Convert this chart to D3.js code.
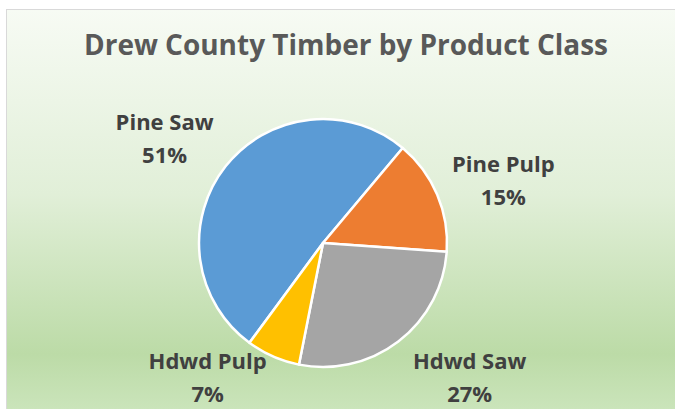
<!DOCTYPE html>
<html>
<head>
<meta charset="utf-8">
<script src="https://cdn.jsdelivr.net/npm/d3@7"></script>
<style>
  html, body { margin: 0; padding: 0; background: #ffffff; }
  svg { display: block; }
</style>
</head>
<body>
<script>
// Chart data
const categories = ["Pine Saw", "Pine Pulp", "Hdwd Saw", "Hdwd Pulp"];
const shares = [51, 15, 27, 7];
const percentLabels = ["51%", "15%", "27%", "7%"];
const sliceColors = ["#5B9BD5", "#ED7D31", "#A5A5A5", "#FFC000"];
const chartTitle = "Drew County Timber by Product Class";

// Layout
const WIDTH = 675;
const HEIGHT = 409;
const CENTER = { x: 323, y: 243 };
const RADIUS = 124;
const LABEL_RX = 150;
const LABEL_RY = 140;
const LABEL_FONT = 22;
const LINE_GAP = 33;
const START_DEG = -143.6;
// hand tweaks for the data labels, like dragged labels in the original
const labelNudge = [[-2, -3], [-5, 2], [21, 4], [-31, -16]];

const svg = d3.select("body")
  .append("svg")
  .attr("width", WIDTH)
  .attr("height", HEIGHT);

// Background gradient
const defs = svg.append("defs");
const grad = defs.append("linearGradient")
  .attr("id", "bg")
  .attr("x1", 0).attr("y1", 0)
  .attr("x2", 0).attr("y2", 1);
grad.append("stop").attr("offset", "0%").attr("stop-color", "#f7fbf4");
grad.append("stop").attr("offset", "45%").attr("stop-color", "#e1efd8");
grad.append("stop").attr("offset", "84%").attr("stop-color", "#bcdba7");
grad.append("stop").attr("offset", "100%").attr("stop-color", "#cde6be");

svg.append("rect")
  .attr("x", 6.5)
  .attr("y", 9.5)
  .attr("width", 700)
  .attr("height", 410)
  .attr("fill", "url(#bg)")
  .attr("stroke", "#d9d9d9")
  .attr("stroke-width", 1);

// Title
svg.append("text")
  .attr("x", 346)
  .attr("y", 55)
  .attr("text-anchor", "middle")
  .attr("textLength", 524)
  .attr("lengthAdjust", "spacingAndGlyphs")
  .style("font-family", "'Open Sans', 'Noto Sans', sans-serif")
  .style("font-weight", "700")
  .style("font-size", "28px")
  .style("fill", "#595959")
  .text(chartTitle);

// Pie
const data = categories.map((c, i) => ({ name: c, value: shares[i], pct: percentLabels[i], color: sliceColors[i] }));

const startAngle = START_DEG * Math.PI / 180;
const pie = d3.pie()
  .sort(null)
  .value((d) => d.value)
  .startAngle(startAngle)
  .endAngle(startAngle + 2 * Math.PI);

const arc = d3.arc()
  .innerRadius(0)
  .outerRadius(RADIUS);

const pieGroup = svg.append("g")
  .attr("transform", `translate(${CENTER.x}, ${CENTER.y})`);

const arcs = pie(data);

pieGroup.selectAll("path")
  .data(arcs)
  .enter()
  .append("path")
  .attr("d", arc)
  .attr("fill", (d) => d.data.color)
  .attr("stroke", "#ffffff")
  .attr("stroke-width", 2.5)
  .attr("stroke-linejoin", "round");

// Labels, placed outside each slice
const labelGroup = pieGroup.append("g")
  .style("font-family", "'Open Sans', 'Noto Sans', sans-serif")
  .style("font-weight", "700")
  .style("font-size", LABEL_FONT + "px")
  .style("fill", "#404040");

const capH = LABEL_FONT * 0.714;
const halfH = (LINE_GAP + capH) / 2;

arcs.forEach((a, i) => {
  const mid = (a.startAngle + a.endAngle) / 2;
  const sx = Math.sin(mid);
  const sy = -Math.cos(mid);
  const t = labelGroup.append("text")
    .attr("text-anchor", "middle");
  t.append("tspan").attr("x", 0).attr("y", 0).text(a.data.name);
  t.append("tspan").attr("x", 0).attr("y", LINE_GAP).text(a.data.pct);
  const hw = t.node().getBBox().width / 2;
  const cx = sx * LABEL_RX + hw * sx + labelNudge[i][0];
  const cy = sy * LABEL_RY + halfH * sy + labelNudge[i][1];
  // block runs from cap top of line 1 to baseline of line 2
  t.attr("transform", `translate(${cx}, ${cy - halfH + capH})`);
});
</script>
</body>
</html>
